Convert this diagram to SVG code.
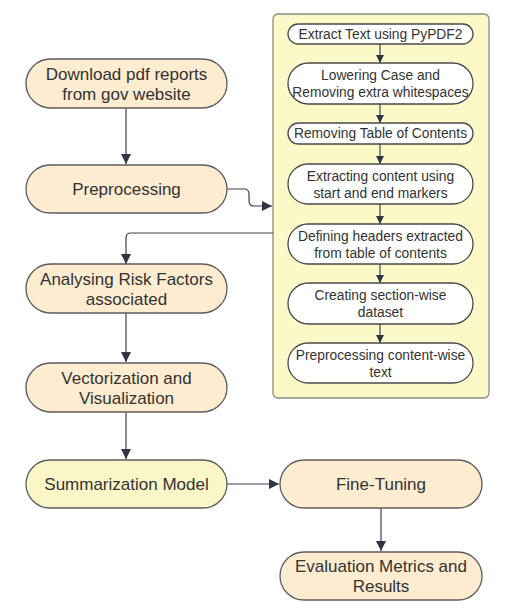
<svg xmlns="http://www.w3.org/2000/svg" width="507" height="612" viewBox="0 0 507 612">
  <defs>
    <marker id="arrow" viewBox="0 0 10 10" refX="10" refY="5" markerWidth="10" markerHeight="10" markerUnits="userSpaceOnUse" orient="auto">
      <path d="M0,0 L10,5 L0,10 Z" fill="#2f3542"/>
    </marker>
    <marker id="arrowSm" viewBox="0 0 10 10" refX="10" refY="5" markerWidth="8" markerHeight="8" markerUnits="userSpaceOnUse" orient="auto">
      <path d="M0,0 L10,5 L0,10 Z" fill="#2f3542"/>
    </marker>
  </defs>
  <style>
    .main { fill: #fdecd0; stroke: #5c5c5c; stroke-width: 1.3; }
    .model { fill: #fbf6c8; stroke: #5c5c5c; stroke-width: 1.3; }
    .inner { fill: #ffffff; stroke: #4a4a4a; stroke-width: 1.3; }
    .panel { fill: #fcf9c9; stroke: #8c8c80; stroke-width: 1.3; }
    .lbl { font-family: "Liberation Sans", Arial, sans-serif; font-size: 17px; fill: #333333; text-anchor: middle; }
    .slbl { font-family: "Liberation Sans", Arial, sans-serif; font-size: 13.8px; fill: #333333; text-anchor: middle; }
    .edge { fill: none; stroke: #3a4050; stroke-width: 1.2; }
  </style>
  <rect width="507" height="612" fill="#ffffff"/>

  <!-- preprocessing sub-steps panel -->
  <g id="panel">
    <rect class="panel" x="273" y="14" width="216" height="384" rx="5"/>
  </g>

  <g id="connectors">
    <path class="edge" d="M126,108 V164" marker-end="url(#arrow)"/>
    <path class="edge" d="M227,189 H244 Q249,189 249,194 V201 Q249,206 254,206 H272" marker-end="url(#arrow)"/>
    <path class="edge" d="M273,233 H131 Q126,233 126,238 V264" marker-end="url(#arrow)"/>
    <path class="edge" d="M126,313 V362" marker-end="url(#arrow)"/>
    <path class="edge" d="M126,412 V459" marker-end="url(#arrow)"/>
    <path class="edge" d="M227,484 H279" marker-end="url(#arrow)"/>
    <path class="edge" d="M381,508 V551" marker-end="url(#arrow)"/>
    <!-- inner steps -->
    <path class="edge" d="M380,44 V63" marker-end="url(#arrowSm)"/>
    <path class="edge" d="M380,104 V123" marker-end="url(#arrowSm)"/>
    <path class="edge" d="M380,144 V164" marker-end="url(#arrowSm)"/>
    <path class="edge" d="M380,204 V224" marker-end="url(#arrowSm)"/>
    <path class="edge" d="M380,264 V283" marker-end="url(#arrowSm)"/>
    <path class="edge" d="M380,324 V343" marker-end="url(#arrowSm)"/>
  </g>

  <g id="download">
    <rect class="main" x="26" y="59" width="201" height="49" rx="24.5"/>
    <text class="lbl" x="126.5" y="79.8">Download pdf reports</text>
    <text class="lbl" x="126.5" y="99.8">from gov website</text>
  </g>
  <g id="preprocessing">
    <rect class="main" x="26" y="165" width="201" height="48" rx="24"/>
    <text class="lbl" x="126.5" y="194.8">Preprocessing</text>
  </g>
  <g id="risk-factors">
    <rect class="main" x="26" y="264" width="201" height="49" rx="24.5"/>
    <text class="lbl" x="126.5" y="284.8">Analysing Risk Factors</text>
    <text class="lbl" x="126.5" y="304.8">associated</text>
  </g>
  <g id="vectorization">
    <rect class="main" x="26" y="363" width="201" height="49" rx="24.5"/>
    <text class="lbl" x="126.5" y="383.8">Vectorization and</text>
    <text class="lbl" x="126.5" y="403.8">Visualization</text>
  </g>
  <g id="summarization">
    <rect class="model" x="26" y="460" width="201" height="48" rx="24"/>
    <text class="lbl" x="126.5" y="489.8">Summarization Model</text>
  </g>
  <g id="fine-tuning">
    <rect class="main" x="280" y="460" width="202" height="48" rx="24"/>
    <text class="lbl" x="381" y="489.8">Fine-Tuning</text>
  </g>
  <g id="evaluation">
    <rect class="main" x="280" y="552" width="202" height="48" rx="24"/>
    <text class="lbl" x="381" y="572.3">Evaluation Metrics and</text>
    <text class="lbl" x="381" y="592.3">Results</text>
  </g>

  <g id="extract-text">
    <rect class="inner" x="288" y="24" width="185" height="20" rx="10"/>
    <text class="slbl" x="380.5" y="38.9">Extract Text using PyPDF2</text>
  </g>
  <g id="lowering-case">
    <rect class="inner" x="288" y="63" width="185" height="41" rx="20.5"/>
    <text class="slbl" x="380.5" y="80">Lowering Case and</text>
    <text class="slbl" x="380.5" y="97">Removing extra whitespaces</text>
  </g>
  <g id="remove-toc">
    <rect class="inner" x="288" y="123" width="185" height="21" rx="10.5"/>
    <text class="slbl" x="380.5" y="138.4">Removing Table of Contents</text>
  </g>
  <g id="extract-content">
    <rect class="inner" x="288" y="164" width="185" height="40" rx="20"/>
    <text class="slbl" x="380.5" y="180.5">Extracting content using</text>
    <text class="slbl" x="380.5" y="197.5">start and end markers</text>
  </g>
  <g id="define-headers">
    <rect class="inner" x="288" y="224" width="185" height="40" rx="20"/>
    <text class="slbl" x="380.5" y="240.5">Defining headers extracted</text>
    <text class="slbl" x="380.5" y="257.5">from table of contents</text>
  </g>
  <g id="section-dataset">
    <rect class="inner" x="288" y="283" width="185" height="41" rx="20.5"/>
    <text class="slbl" x="380.5" y="300">Creating section-wise</text>
    <text class="slbl" x="380.5" y="317">dataset</text>
  </g>
  <g id="content-preprocess">
    <rect class="inner" x="288" y="343" width="185" height="40" rx="20"/>
    <text class="slbl" x="380.5" y="359.5">Preprocessing content-wise</text>
    <text class="slbl" x="380.5" y="376.5">text</text>
  </g>
</svg>
